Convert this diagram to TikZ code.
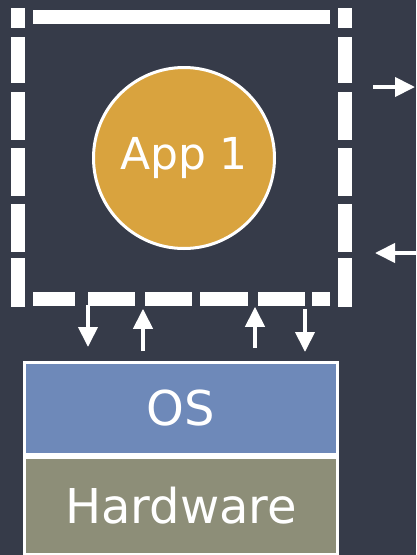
\documentclass[tikz,border=0pt]{standalone}
\usepackage{fontspec}
\setmainfont{DejaVu Sans}
\usetikzlibrary{arrows.meta, positioning}

\definecolor{slate}{HTML}{363B49}
\definecolor{osblue}{HTML}{6E89B9}
\definecolor{hwolive}{HTML}{8D8E78}
\definecolor{appgold}{HTML}{D9A33E}

\begin{document}
\begin{tikzpicture}[x=1pt, y=-1pt,
    frame/.style={minimum width=327pt, minimum height=282pt, outer sep=0pt},
    chalk/.style={white, line width=13.5pt},
    app/.style={circle, draw=white, line width=3pt, fill=appgold,
                minimum size=181pt, text=white,
                font=\fontsize{44}{50}\selectfont},
    layer/.style={draw=white, line width=3pt, minimum width=313pt,
                  text=white, font=\fontsize{48}{56}\selectfont},
    arrow/.style={-{Triangle[length=20pt, width=19pt]}, line width=4pt, white}
]
\useasboundingbox (0,0) rectangle (416,555);
\fill[slate] (0,0) rectangle (416,555);

% Virtual machine frame with the application
\node[frame] (vm) at (181.5,157.75) {};
\foreach \ya/\yb in {8/28, 37/83, 92/140, 148/196, 204/252, 258/307} {
  \draw[chalk] (18,\ya) -- (18,\yb);
  \draw[chalk] (345,\ya) -- (345,\yb);
}
\draw[chalk] (33,17) -- (330,17);
\foreach \xa/\xb in {33/75, 88/135, 145/192, 200/248, 258/305, 312/330}
  \draw[chalk] (\xa,299) -- (\xb,299);
\node[app] (app) at (184,158) {App 1};

% OS and hardware stack
\node[layer, fill=osblue, minimum height=92pt] (os) at (181,408.5) {OS};
\node[layer, fill=hwolive, minimum height=97pt, below=0pt of os] (hw) {Hardware};

% Calls between frame and OS
\draw[arrow, shorten <=6pt, shorten >=14pt]
  ([xshift=-93.5pt]vm.south) -- ([xshift=-93.5pt]vm.south |- os.north);
\draw[arrow, shorten <=10pt, shorten >=10pt]
  ([xshift=-38.5pt]vm.south |- os.north) -- ([xshift=-38.5pt]vm.south);
\draw[arrow, shorten <=13pt, shorten >=8pt]
  ([xshift=73.5pt]vm.south |- os.north) -- ([xshift=73.5pt]vm.south);
\draw[arrow, shorten <=10pt, shorten >=9pt]
  ([xshift=123.5pt]vm.south) -- ([xshift=123.5pt]vm.south |- os.north);

% Traffic on the right side
\coordinate (outA) at (373,87);
\coordinate (outB) at (415,87);
\coordinate (inA)  at (416,253);
\coordinate (inB)  at (375,253);
\draw[arrow] (outA) -- (outB);
\draw[arrow] (inA) -- (inB);
\end{tikzpicture}
\end{document}
